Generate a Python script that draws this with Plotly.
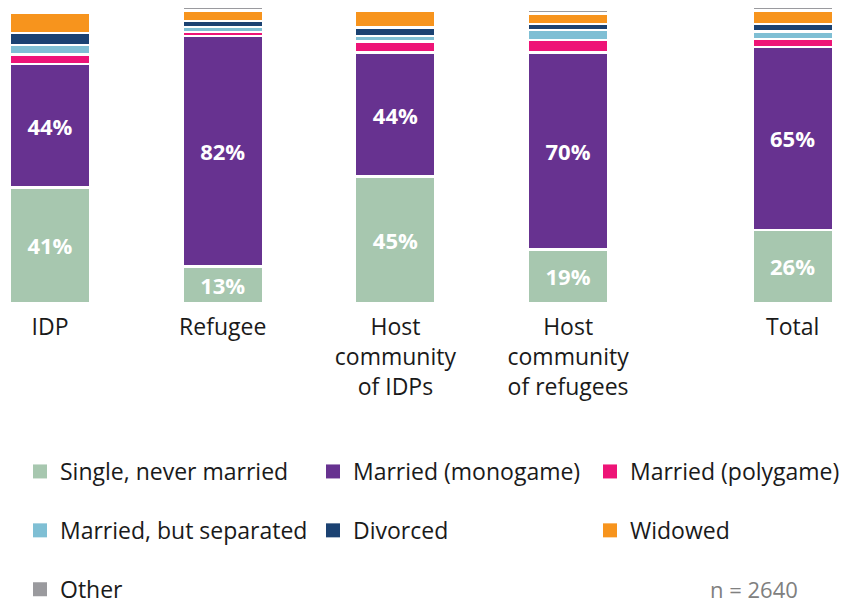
import plotly.graph_objects as go

# Population groups and their positions on the x axis (Total set slightly apart)
groups = ["IDP", "Refugee", "Host<br>community<br>of IDPs", "Host<br>community<br>of refugees", "Total"]
x_pos = [0, 1, 2, 3, 4.3]

# Marital status shares (%) per group
single = [41, 13, 45, 19, 26]
monogame = [44, 82, 44, 70, 65]
polygame = [3.3, 1.3, 4.0, 4.5, 2.8]
separated = [3.4, 1.9, 1.9, 3.6, 2.7]
divorced = [4.3, 2.1, 3.1, 2.1, 2.7]
widowed = [7.1, 3.7, 5.9, 3.8, 4.8]
other = [0, 1.2, 1.2, 1.2, 1.2]

# name, values, colour, value labels shown, legend column
series = [
    ("Single, never married", single, "#a7c7af", True, "legend"),
    ("Married (monogame)", monogame, "#673290", True, "legend2"),
    ("Married (polygame)", polygame, "#ee1477", False, "legend3"),
    ("Married, but separated", separated, "#7fbfd4", False, "legend"),
    ("Divorced", divorced, "#1b4272", False, "legend2"),
    ("Widowed", widowed, "#f7941d", False, "legend3"),
    ("Other", other, "#9a9a9e", False, "legend"),
]

FONT = "Open Sans, Noto Sans, sans-serif"
W, H = 845, 604
TOP, BOTTOM = 2, 301
PLOT_H = H - TOP - BOTTOM

fig = go.Figure()
for name, vals, color, labelled, leg in series:
    fig.add_trace(go.Bar(
        x=x_pos,
        y=vals,
        name=name,
        width=0.466,
        marker=dict(color=color, line=dict(color="white", width=2.5)),
        text=[f"{v:.0f}%" for v in vals] if labelled else None,
        textposition="inside" if labelled else "none",
        insidetextanchor="middle",
        textangle=0,
        textfont=dict(color="white", size=22, family=FONT, weight="bold"),
        showlegend=False,
        hoverinfo="skip",
    ))
    # legend key: plain square swatch
    fig.add_trace(go.Scatter(
        x=[None], y=[None],
        mode="markers",
        name=name,
        marker=dict(symbol="square", size=14, color=color),
        legend=leg,
        legendgroup=name,
        showlegend=True,
    ))


def column_legend(x_px):
    return dict(
        orientation="v",
        xref="container", yref="container",
        xanchor="left", yanchor="top",
        x=x_px / W, y=1 - 450 / H,
        font=dict(size=23, family=FONT, color="#1a1a1a"),
        bgcolor="rgba(0,0,0,0)",
        tracegroupgap=26,
        traceorder="grouped",
        itemsizing="trace",
    )


fig.update_layout(
    barmode="stack",
    width=W,
    height=H,
    margin=dict(l=0, r=0, t=TOP, b=BOTTOM, autoexpand=False),
    paper_bgcolor="white",
    plot_bgcolor="white",
    font=dict(family=FONT, size=23, color="#1a1a1a"),
    uniformtext=dict(minsize=10, mode="show"),
    xaxis=dict(
        range=[-50 / 172.7, 795 / 172.7],
        tickvals=x_pos,
        ticktext=groups,
        showgrid=False,
        zeroline=False,
        showline=False,
        ticks="",
        ticklabelstandoff=8,
        automargin=False,
        tickfont=dict(size=23, family=FONT, color="#1a1a1a"),
    ),
    yaxis=dict(range=[0, 107], visible=False, automargin=False),
    legend=column_legend(20),
    legend2=column_legend(313),
    legend3=column_legend(590),
    annotations=[
        dict(
            text="n = 2640",
            xref="paper", yref="paper",
            x=800 / W, y=((H - BOTTOM) - 589) / PLOT_H,
            xanchor="right", yanchor="middle",
            showarrow=False,
            font=dict(size=22, family=FONT, color="#808080"),
        )
    ],
)

fig.write_html("out.html")
